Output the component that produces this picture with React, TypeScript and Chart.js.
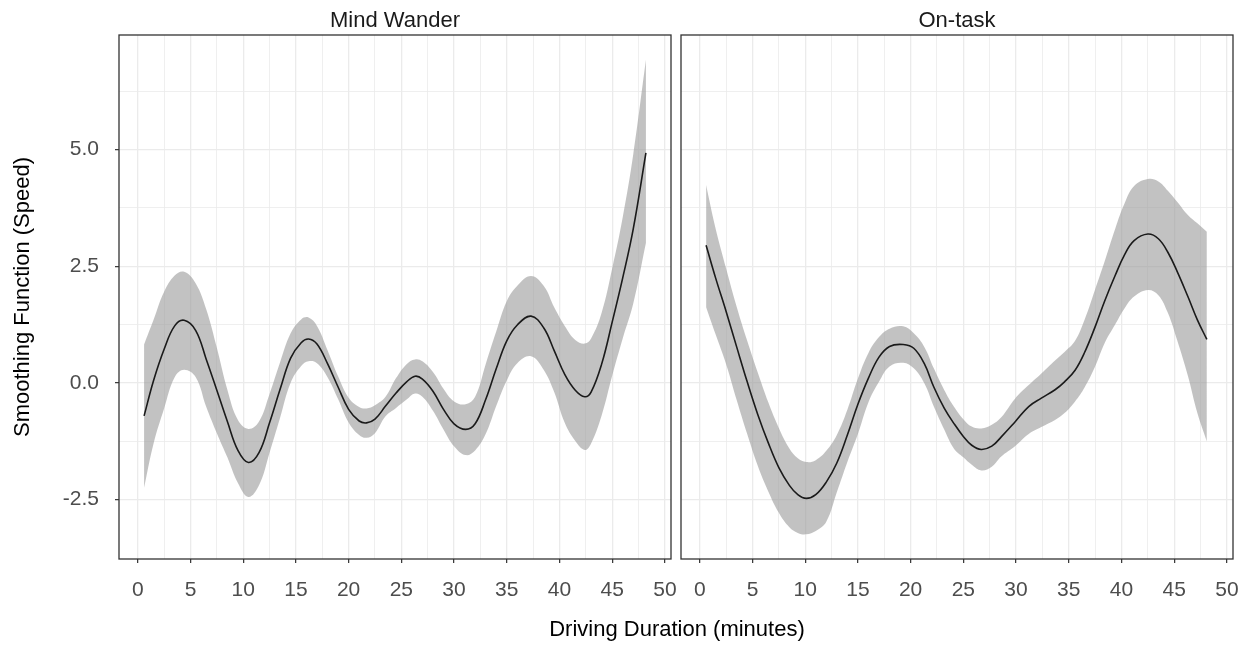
import React, { useEffect, useRef } from "react";
import { Chart, registerables } from "chart.js";

Chart.register(...registerables);

// ---------- data ----------
const xMajorTicks = [0, 5, 10, 15, 20, 25, 30, 35, 40, 45, 50];
const xMinorTicks = [2.5, 7.5, 12.5, 17.5, 22.5, 27.5, 32.5, 37.5, 42.5, 47.5];
const yMajorTicks = [-2.5, 0, 2.5, 5];
const yMinorTicks = [-1.25, 1.25, 3.75, 6.25];

const panelTitles = ["Mind Wander", "On-task"];
const xTitle = "Driving Duration (minutes)";
const yTitle = "Smoothing Function (Speed)";

const mindTime = [0.6, 1.5, 2.5, 3.5, 4.4, 5.5, 6.5, 7.5, 8.5, 9.5, 10.5, 11.5, 12.5, 13.5, 14.5, 15.5, 16.2, 17, 18, 19, 20, 21, 21.7, 22.5, 23.5, 24.5, 25.5, 26.3, 27, 28, 29, 30, 31.1, 32, 33, 34, 35, 36, 37.3, 38.5, 39.5, 40.5, 41.5, 42.4, 43, 44, 45, 46, 47, 48.2];
const mindFit = [-0.71, 0.05, 0.72, 1.22, 1.34, 1.12, 0.5, -0.16, -0.83, -1.45, -1.71, -1.5, -0.86, -0.14, 0.53, 0.86, 0.94, 0.83, 0.41, -0.09, -0.57, -0.82, -0.86, -0.78, -0.5, -0.22, 0.02, 0.14, 0.08, -0.18, -0.57, -0.88, -1.0, -0.88, -0.36, 0.3, 0.9, 1.24, 1.43, 1.18, 0.69, 0.18, -0.16, -0.3, -0.2, 0.4, 1.3, 2.25, 3.3, 4.93];
const mindUpper = [0.82, 1.35, 1.95, 2.3, 2.38, 2.13, 1.57, 0.75, -0.15, -0.8, -0.99, -0.83, -0.24, 0.44, 1.06, 1.36, 1.4, 1.22, 0.7, 0.14, -0.32, -0.52, -0.55, -0.48, -0.3, 0.1, 0.4, 0.5, 0.46, 0.23, -0.13, -0.4, -0.46, -0.3, 0.4, 1.1, 1.75, 2.08, 2.29, 2.08, 1.62, 1.22, 0.92, 0.84, 0.95, 1.5, 2.45, 3.55, 4.9, 6.93];
const mindLower = [-2.25, -1.3, -0.55, 0.12, 0.28, 0.12, -0.52, -1.08, -1.6, -2.15, -2.45, -2.2, -1.5, -0.75, 0.0, 0.36, 0.46, 0.42, 0.12, -0.35, -0.85, -1.12, -1.18, -1.08, -0.72, -0.54, -0.36, -0.23, -0.3, -0.6, -1.0, -1.36, -1.55, -1.45, -1.1, -0.5, 0.05, 0.42, 0.57, 0.28, -0.2, -0.86, -1.25, -1.44, -1.3, -0.7, 0.15, 0.95, 1.7, 3.0];

const taskTime = [0.6, 1.5, 2.5, 3.5, 4.5, 5.5, 6.5, 7.5, 8.5, 9.3, 10.1, 11, 12, 13, 14, 15, 16, 17, 18, 19.3, 20.3, 21.3, 22.2, 23.2, 24.1, 25, 25.8, 26.7, 27.7, 28.6, 29.9, 31.2, 32.4, 33.7, 34.6, 35.6, 36.5, 37.5, 38.4, 39.4, 40.3, 41.2, 42.5, 43.5, 44.4, 45.3, 46.3, 47.2, 48.1];
const taskFit = [2.95, 2.25, 1.53, 0.77, 0.02, -0.68, -1.29, -1.82, -2.2, -2.4, -2.48, -2.4, -2.13, -1.72, -1.12, -0.46, 0.1, 0.55, 0.78, 0.82, 0.74, 0.41, -0.09, -0.55, -0.87, -1.15, -1.34, -1.43, -1.36, -1.16, -0.84, -0.51, -0.33, -0.15, 0.02, 0.27, 0.65, 1.2, 1.75, 2.3, 2.75, 3.05, 3.19, 3.09, 2.8, 2.38, 1.85, 1.35, 0.93];
const taskUpper = [4.24, 3.31, 2.45, 1.63, 0.9, 0.22, -0.42, -0.97, -1.41, -1.62, -1.7, -1.66, -1.46, -1.12, -0.58, 0.09, 0.64, 0.98, 1.16, 1.21, 1.06, 0.77, 0.31, -0.16, -0.51, -0.78, -0.94, -0.98, -0.9, -0.74, -0.34, -0.05, 0.2, 0.48, 0.66, 0.9, 1.35, 2.0, 2.6, 3.3, 3.85, 4.22, 4.37, 4.32, 4.12, 3.88, 3.6, 3.42, 3.24];
const taskLower = [1.62, 1.04, 0.4, -0.37, -1.1, -1.78, -2.33, -2.79, -3.1, -3.22, -3.25, -3.18, -2.98, -2.35, -1.7, -1.1, -0.42, 0.02, 0.35, 0.43, 0.31, -0.01, -0.51, -1.01, -1.41, -1.6, -1.76, -1.88, -1.8, -1.58, -1.36, -1.1, -0.95, -0.8, -0.65, -0.4, -0.1, 0.35, 0.85, 1.25, 1.6, 1.85, 1.99, 1.88, 1.5, 0.9, 0.15, -0.65, -1.26];

// ---------- styling / layout ----------
const FONT = "'Liberation Sans', Arial, Helvetica, sans-serif";
const X_MIN = -1.78;
const X_MAX = 50.58;
const Y_MIN = -3.78;
const Y_MAX = 7.46;

const xAllTicks = [...xMajorTicks, ...xMinorTicks].sort((a, b) => a - b);
const yAllTicks = [...yMajorTicks, ...yMinorTicks].sort((a, b) => a - b);

const near = (a: number, b: number) => Math.abs(a - b) < 1e-9;
const isXMajor = (v: number) => xMajorTicks.some((t) => near(t, v));
const isYMajor = (v: number) => yMajorTicks.some((t) => near(t, v));

const pts = (xs: number[], ys: number[]) => xs.map((x, i) => ({ x, y: ys[i] }));

function stripPlugin(text: string) {
  return {
    id: "stripLabel",
    afterDraw(chart: any) {
      const { ctx, chartArea } = chart;
      ctx.save();
      ctx.font = `22px ${FONT}`;
      ctx.fillStyle = "#1A1A1A";
      ctx.textAlign = "center";
      ctx.textBaseline = "alphabetic";
      ctx.fillText(text, (chartArea.left + chartArea.right) / 2, 27);
      ctx.restore();
    },
  };
}

const borderPlugin = {
  id: "panelBorder",
  afterDraw(chart: any) {
    const { ctx, chartArea } = chart;
    ctx.save();
    ctx.strokeStyle = "#333333";
    ctx.lineWidth = 1.3;
    ctx.strokeRect(chartArea.left, chartArea.top, chartArea.right - chartArea.left, chartArea.bottom - chartArea.top);
    ctx.restore();
  },
};

function makeConfig(title: string, time: number[], fit: number[], up: number[], lo: number[], showY: boolean, rightPad: number, yWidth: number): any {
  const curve = { cubicInterpolationMode: "default", tension: 0.4 };
  return {
    type: "line",
    data: {
      datasets: [
        {
          label: "fit",
          data: pts(time, fit),
          borderColor: "#1A1A1A",
          borderWidth: 1.6,
          pointRadius: 0,
          fill: false,
          ...curve,
          order: 0,
        },
        {
          label: "upper",
          data: pts(time, up),
          borderColor: "rgba(0,0,0,0)",
          borderWidth: 0,
          backgroundColor: "rgba(153,153,153,0.6)",
          pointRadius: 0,
          fill: "+1",
          ...curve,
          order: 1,
        },
        {
          label: "lower",
          data: pts(time, lo),
          borderColor: "rgba(0,0,0,0)",
          borderWidth: 0,
          pointRadius: 0,
          fill: false,
          ...curve,
          order: 2,
        },
      ],
    },
    options: {
      responsive: false,
      animation: false,
      events: [],
      layout: { padding: { top: 35, right: rightPad, bottom: 0, left: 0 } },
      plugins: {
        legend: { display: false },
        tooltip: { enabled: false },
        title: { display: false },
      },
      scales: {
        x: {
          type: "linear",
          min: X_MIN,
          max: X_MAX,
          afterBuildTicks: (s: any) => {
            s.ticks = xAllTicks.map((v) => ({ value: v }));
          },
          afterFit: (s: any) => {
            s.height = 86;
            s.paddingLeft = 0;
            s.paddingRight = 0;
          },
          ticks: {
            autoSkip: false,
            maxRotation: 0,
            minRotation: 0,
            padding: 15,
            color: "#4D4D4D",
            font: { family: FONT, size: 21 },
            callback: (v: number) => (isXMajor(v) ? String(v) : ""),
          },
          grid: {
            color: "#EBEBEB",
            lineWidth: (c: any) => (c.tick && isXMajor(c.tick.value) ? 1.3 : 0.8),
            drawTicks: true,
            tickLength: 4,
            tickWidth: 1.2,
            tickColor: (c: any) => (c.tick && isXMajor(c.tick.value) ? "#333333" : "rgba(0,0,0,0)"),
          },
          border: { display: false },
        },
        y: {
          type: "linear",
          min: Y_MIN,
          max: Y_MAX,
          afterBuildTicks: (s: any) => {
            s.ticks = yAllTicks.map((v) => ({ value: v }));
          },
          afterFit: (s: any) => {
            s.width = yWidth;
            s.paddingTop = 0;
            s.paddingBottom = 0;
          },
          ticks: {
            display: showY,
            autoSkip: false,
            padding: 16,
            color: "#4D4D4D",
            font: { family: FONT, size: 21 },
            callback: (v: number) => (isYMajor(v) ? v.toFixed(1) : ""),
          },
          title: {
            display: showY,
            text: yTitle,
            color: "#000000",
            font: { family: FONT, size: 22 },
            padding: { top: 10, bottom: 0 },
          },
          grid: {
            color: "#EBEBEB",
            lineWidth: (c: any) => (c.tick && isYMajor(c.tick.value) ? 1.3 : 0.8),
            drawTicks: showY,
            tickLength: 4,
            tickWidth: 1.2,
            tickColor: (c: any) => (c.tick && isYMajor(c.tick.value) ? "#333333" : "rgba(0,0,0,0)"),
          },
          border: { display: false },
        },
      },
    },
    plugins: [stripPlugin(title), borderPlugin],
  };
}

export default function App() {
  const leftRef = useRef<HTMLCanvasElement | null>(null);
  const rightRef = useRef<HTMLCanvasElement | null>(null);

  useEffect(() => {
    const charts: Chart[] = [];
    if (leftRef.current) {
      charts.push(new Chart(leftRef.current, makeConfig(panelTitles[0], mindTime, mindFit, mindUpper, mindLower, true, 9, 119)));
    }
    if (rightRef.current) {
      charts.push(new Chart(rightRef.current, makeConfig(panelTitles[1], taskTime, taskFit, taskUpper, taskLower, false, 17, 5)));
    }
    return () => charts.forEach((c) => c.destroy());
  }, []);

  return (
    <div style={{ position: "absolute", left: 0, top: 0, width: 1250, height: 645, background: "#FFFFFF", overflow: "hidden" }}>
      <canvas ref={leftRef} width={680} height={645} style={{ position: "absolute", left: 0, top: 0, width: 680, height: 645 }} />
      <canvas ref={rightRef} width={574} height={645} style={{ position: "absolute", left: 676, top: 0, width: 574, height: 645 }} />
      <div
        style={{
          position: "absolute",
          left: 477,
          top: 616,
          width: 400,
          textAlign: "center",
          fontFamily: FONT,
          fontSize: 22,
          lineHeight: "26px",
          color: "#000000",
          whiteSpace: "nowrap",
        }}
      >
        {xTitle}
      </div>
    </div>
  );
}
